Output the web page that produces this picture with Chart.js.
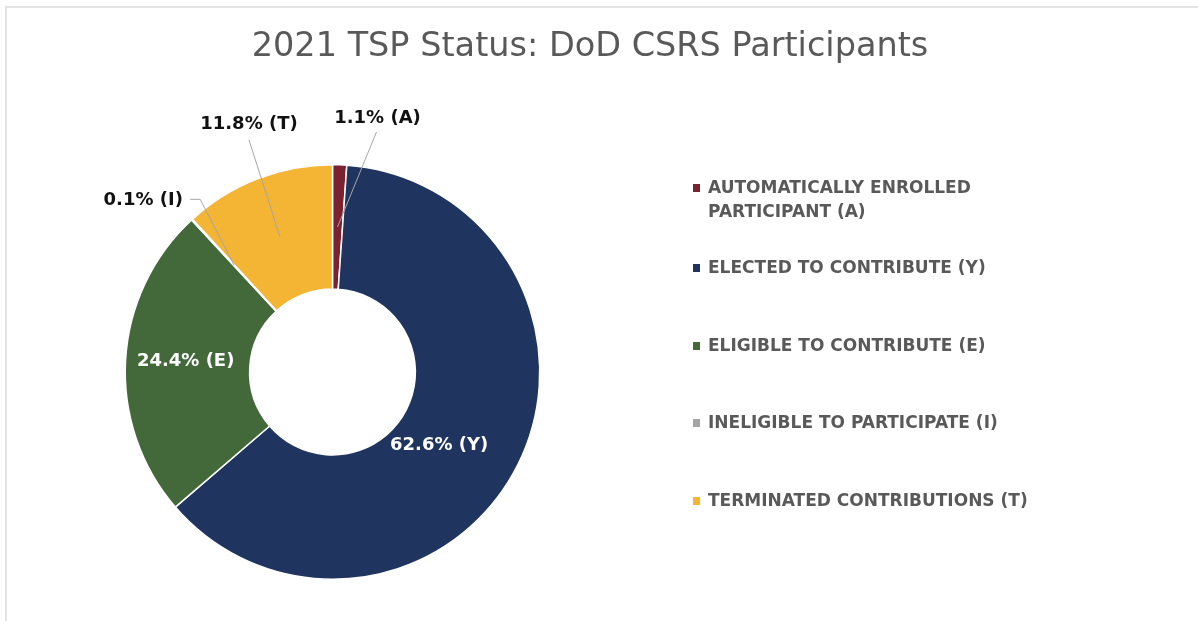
<!DOCTYPE html>
<html>
<head>
<meta charset="utf-8">
<script src="https://cdn.jsdelivr.net/npm/chart.js@4/dist/chart.umd.min.js"></script>
<style>
    html, body { margin: 0; padding: 0; background: #ffffff; }
    #wrap {
        position: absolute; left: 0; top: 0; width: 1198px; height: 621px;
    }
    #frame {
        position: absolute; left: 5px; top: 6px; right: 0; bottom: 0;
        border-top: 2px solid #e3e3e3; border-left: 2px solid #e3e3e3;
    }
    canvas { position: absolute; left: 0; top: 0; }
</style>
</head>
<body>
<div id="wrap">
    <div id="frame"></div>
    <canvas id="chart" width="1198" height="621"></canvas>
</div>
<script>
// Chart data
const chartTitle = '2021 TSP Status: DoD CSRS Participants';
const categories = [
    'AUTOMATICALLY ENROLLED PARTICIPANT (A)',
    'ELECTED TO CONTRIBUTE (Y)',
    'ELIGIBLE TO CONTRIBUTE (E)',
    'INELIGIBLE TO PARTICIPATE (I)',
    'TERMINATED CONTRIBUTIONS (T)'
];
const shortCodes = ['A', 'Y', 'E', 'I', 'T'];
const shares = [1.1, 62.6, 24.4, 0.1, 11.8];
const sliceColors = ['#7b2230', '#1f3560', '#43693a', '#a5a5a5', '#f4b434'];

const TEXT_GREY = '#595959';
const FONT = "'DejaVu Sans', Verdana, sans-serif";

// Where each data label sits, relative to the middle of its ring segment
// inside labels: white, no leader; outside labels: black with a grey leader line
const labelLayout = [
    { dx: 40, dy: -109, inside: false, lead: [[-1, 14]] },
    { dx: -23, dy: 8, inside: true },
    { dx: -2, dy: -2, inside: true },
    { dx: -91, dy: -65, inside: false, lead: [[47, -1], [57, -1]] },
    { dx: -31, dy: -112, inside: false, lead: [[0, 15]] }
];

// Legend lines (wrapped like the original)
const legendLines = [
    ['AUTOMATICALLY ENROLLED', 'PARTICIPANT (A)'],
    ['ELECTED TO CONTRIBUTE (Y)'],
    ['ELIGIBLE TO CONTRIBUTE (E)'],
    ['INELIGIBLE TO PARTICIPATE (I)'],
    ['TERMINATED CONTRIBUTIONS (T)']
];

const dataLabelPlugin = {
    id: 'sliceLabels',
    afterDatasetsDraw(chart) {
        const ctx = chart.ctx;
        const meta = chart.getDatasetMeta(0);
        ctx.save();
        ctx.font = 'bold 18px ' + FONT;
        ctx.textAlign = 'center';
        ctx.textBaseline = 'middle';
        meta.data.forEach((arc, i) => {
            const p = arc.tooltipPosition();
            const lay = labelLayout[i];
            const x = p.x + lay.dx;
            const y = p.y + lay.dy;
            const text = shares[i].toFixed(1) + '% (' + shortCodes[i] + ')';
            if (!lay.inside) {
                ctx.strokeStyle = '#a6a6a6';
                ctx.lineWidth = 1;
                ctx.beginPath();
                ctx.moveTo(x + lay.lead[0][0], y + lay.lead[0][1]);
                for (let k = 1; k < lay.lead.length; k++) {
                    ctx.lineTo(x + lay.lead[k][0], y + lay.lead[k][1]);
                }
                ctx.lineTo(p.x, p.y);
                ctx.stroke();
            }
            ctx.fillStyle = lay.inside ? '#ffffff' : '#111111';
            ctx.fillText(text, x, y);
        });
        ctx.restore();
    }
};

const titleAndLegendPlugin = {
    id: 'titleAndLegend',
    afterDraw(chart) {
        const ctx = chart.ctx;
        ctx.save();
        // title, centred over the whole frame
        ctx.font = '33.5px ' + FONT;
        ctx.fillStyle = TEXT_GREY;
        ctx.textAlign = 'center';
        ctx.textBaseline = 'middle';
        ctx.fillText(chartTitle, 590, 47);

        // legend on the right
        const left = 693;
        const rows = [189, 269, 347, 424, 502];
        ctx.font = 'bold 17px ' + FONT;
        ctx.textAlign = 'left';
        legendLines.forEach((lines, i) => {
            const y = rows[i];
            ctx.fillStyle = sliceColors[i];
            ctx.fillRect(left, y - 5, 7, 8);
            ctx.fillStyle = TEXT_GREY;
            lines.forEach((t, j) => ctx.fillText(t, left + 15, y + j * 24));
        });
        ctx.restore();
    }
};

new Chart(document.getElementById('chart'), {
    type: 'doughnut',
    data: {
        labels: categories,
        datasets: [{
            data: shares,
            backgroundColor: sliceColors,
            borderColor: '#ffffff',
            borderWidth: 1.5
        }]
    },
    options: {
        responsive: false,
        animation: false,
        cutout: '40%',
        layout: {
            padding: { left: 123, right: 656, top: 164, bottom: 41 }
        },
        plugins: {
            legend: { display: false },
            tooltip: { enabled: false },
            title: { display: false }
        }
    },
    plugins: [dataLabelPlugin, titleAndLegendPlugin]
});
</script>
</body>
</html>
